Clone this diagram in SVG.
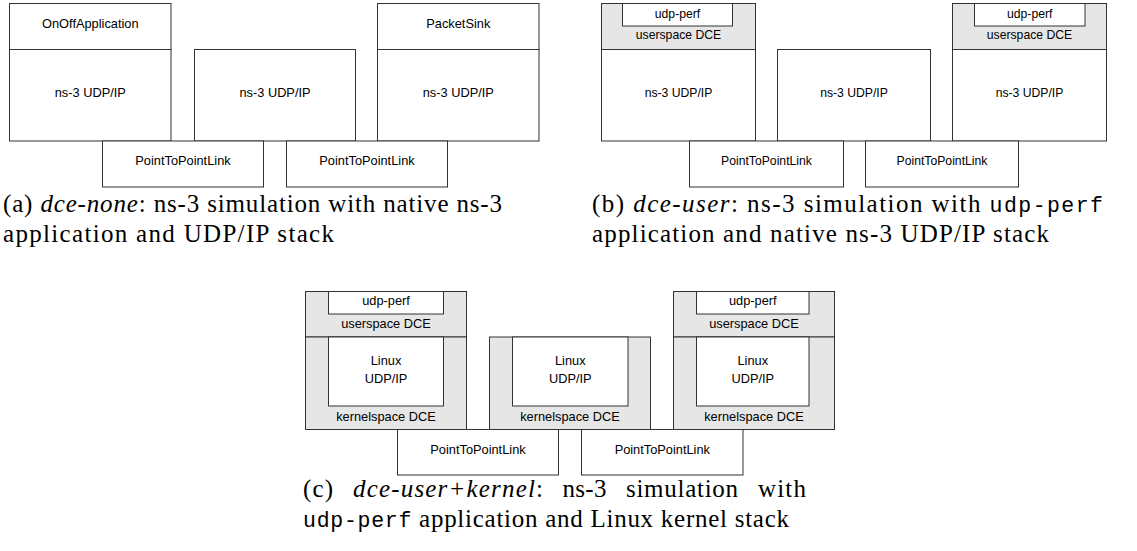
<svg xmlns="http://www.w3.org/2000/svg" width="1137" height="551" viewBox="0 0 1137 551">
<style>
.box{fill:#fff;stroke:#333;stroke-width:1}
.dce{fill:#e6e6e6;stroke:#333;stroke-width:1}
.lbl{font-family:"Liberation Sans",Arial,sans-serif;text-anchor:middle;fill:#000}
.a{font-size:12.8px}
.b{font-size:12.2px}
.c{font-size:12.8px}
.cap{font-family:"Liberation Serif","Times New Roman",serif;font-size:25px;fill:#000}
.it{font-style:italic}
.tt{font-family:"Liberation Mono","Courier New",monospace;font-size:21.5px}
</style>
<rect width="1137" height="551" fill="#fff"/>
<!-- (a) -->
<g id="a-onoff">
<rect class="box" x="9.5" y="3.5" width="161.5" height="46"/>
<rect class="box" x="9.5" y="49.5" width="161.5" height="91.5"/>
<text class="lbl a" x="90.3" y="28">OnOffApplication</text>
<text class="lbl a" x="90.3" y="97">ns-3 UDP/IP</text>
</g>
<g id="a-router">
<rect class="box" x="194.5" y="49.5" width="161" height="91.5"/>
<text class="lbl a" x="275" y="97">ns-3 UDP/IP</text>
</g>
<g id="a-sink">
<rect class="box" x="377.5" y="3.5" width="161.5" height="46"/>
<rect class="box" x="377.5" y="49.5" width="161.5" height="91.5"/>
<text class="lbl a" x="458.3" y="28">PacketSink</text>
<text class="lbl a" x="458.3" y="97">ns-3 UDP/IP</text>
</g>
<g id="a-link1">
<rect class="box" x="102.5" y="141" width="161" height="46"/>
<text class="lbl a" x="183" y="165">PointToPointLink</text>
</g>
<g id="a-link2">
<rect class="box" x="286.5" y="141" width="161" height="46"/>
<text class="lbl a" x="367" y="165">PointToPointLink</text>
</g>
<!-- (b) -->
<g id="b-sender">
<rect class="dce" x="601.5" y="3.5" width="154" height="46"/>
<rect class="box" x="622.5" y="3.5" width="110" height="22.5"/>
<text class="lbl b" x="677.5" y="17.5">udp-perf</text>
<text class="lbl b" x="678.5" y="39">userspace DCE</text>
<rect class="box" x="601.5" y="49.5" width="154" height="91.5"/>
<text class="lbl b" x="678.5" y="96.5">ns-3 UDP/IP</text>
</g>
<g id="b-router">
<rect class="box" x="777.5" y="49.5" width="153" height="91.5"/>
<text class="lbl b" x="854" y="96.5">ns-3 UDP/IP</text>
</g>
<g id="b-receiver">
<rect class="dce" x="952.5" y="3.5" width="154" height="46"/>
<rect class="box" x="974.5" y="3.5" width="110.5" height="22.5"/>
<text class="lbl b" x="1029.7" y="17.5">udp-perf</text>
<text class="lbl b" x="1029.5" y="39">userspace DCE</text>
<rect class="box" x="952.5" y="49.5" width="154" height="91.5"/>
<text class="lbl b" x="1029.5" y="96.5">ns-3 UDP/IP</text>
</g>
<g id="b-link1">
<rect class="box" x="689.5" y="141" width="154" height="46"/>
<text class="lbl b" x="766.5" y="165">PointToPointLink</text>
</g>
<g id="b-link2">
<rect class="box" x="865.5" y="141" width="153" height="46"/>
<text class="lbl b" x="942" y="165">PointToPointLink</text>
</g>
<!-- (c) -->
<g id="c-sender">
<rect class="dce" x="305.5" y="291.5" width="161" height="45.5"/>
<rect class="box" x="328.5" y="291.5" width="115" height="22.5"/>
<text class="lbl c" x="386" y="304.5">udp-perf</text>
<text class="lbl c" x="386" y="328">userspace DCE</text>
<rect class="dce" x="305.5" y="337" width="161" height="92.5"/>
<rect class="box" x="328.5" y="337" width="115" height="69"/>
<text class="lbl c" x="386" y="364.5">Linux</text>
<text class="lbl c" x="386" y="383">UDP/IP</text>
<text class="lbl c" x="386" y="420.5">kernelspace DCE</text>
</g>
<g id="c-router">
<rect class="dce" x="489.5" y="337" width="161" height="92.5"/>
<rect class="box" x="512.5" y="337" width="115.5" height="69"/>
<text class="lbl c" x="570.3" y="364.5">Linux</text>
<text class="lbl c" x="570.3" y="383">UDP/IP</text>
<text class="lbl c" x="570" y="420.5">kernelspace DCE</text>
</g>
<g id="c-receiver">
<rect class="dce" x="673.5" y="291.5" width="161" height="45.5"/>
<rect class="box" x="696.5" y="291.5" width="112.5" height="22.5"/>
<text class="lbl c" x="752.8" y="304.5">udp-perf</text>
<text class="lbl c" x="754" y="328">userspace DCE</text>
<rect class="dce" x="673.5" y="337" width="161" height="92.5"/>
<rect class="box" x="696.5" y="337" width="112.5" height="69"/>
<text class="lbl c" x="752.8" y="364.5">Linux</text>
<text class="lbl c" x="752.8" y="383">UDP/IP</text>
<text class="lbl c" x="754" y="420.5">kernelspace DCE</text>
</g>
<g id="c-link1">
<rect class="box" x="397.5" y="429.5" width="161" height="45.5"/>
<text class="lbl c" x="478" y="454">PointToPointLink</text>
</g>
<g id="c-link2">
<rect class="box" x="581.5" y="429.5" width="161.5" height="45.5"/>
<text class="lbl c" x="662.3" y="454">PointToPointLink</text>
</g>
<g id="connectors"/>
<!-- captions -->
<g id="captions">
<text class="cap" x="3" y="212" textLength="499" lengthAdjust="spacing">(a) <tspan class="it">dce-none</tspan>: ns-3 simulation with native ns-3</text>
<text class="cap" x="3" y="242" textLength="331" lengthAdjust="spacing">application and UDP/IP stack</text>
<text class="cap" x="592" y="212" textLength="511" lengthAdjust="spacing">(b) <tspan class="it">dce-user</tspan>: ns-3 simulation with <tspan class="tt">udp-perf</tspan></text>
<text class="cap" x="592" y="242" textLength="457" lengthAdjust="spacing">application and native ns-3 UDP/IP stack</text>
<text class="cap" x="303" y="497" textLength="30" lengthAdjust="spacing">(c)</text>
<text class="cap" x="353" y="497" textLength="190" lengthAdjust="spacing"><tspan class="it">dce-user+kernel</tspan>:</text>
<text class="cap" x="562.5" y="497" textLength="44" lengthAdjust="spacing">ns-3</text>
<text class="cap" x="626" y="497" textLength="112" lengthAdjust="spacing">simulation</text>
<text class="cap" x="758" y="497" textLength="48" lengthAdjust="spacing">with</text>
<text class="cap" x="303" y="527" textLength="486" lengthAdjust="spacing"><tspan class="tt">udp-perf</tspan> application and Linux kernel stack</text>
</g>
</svg>
